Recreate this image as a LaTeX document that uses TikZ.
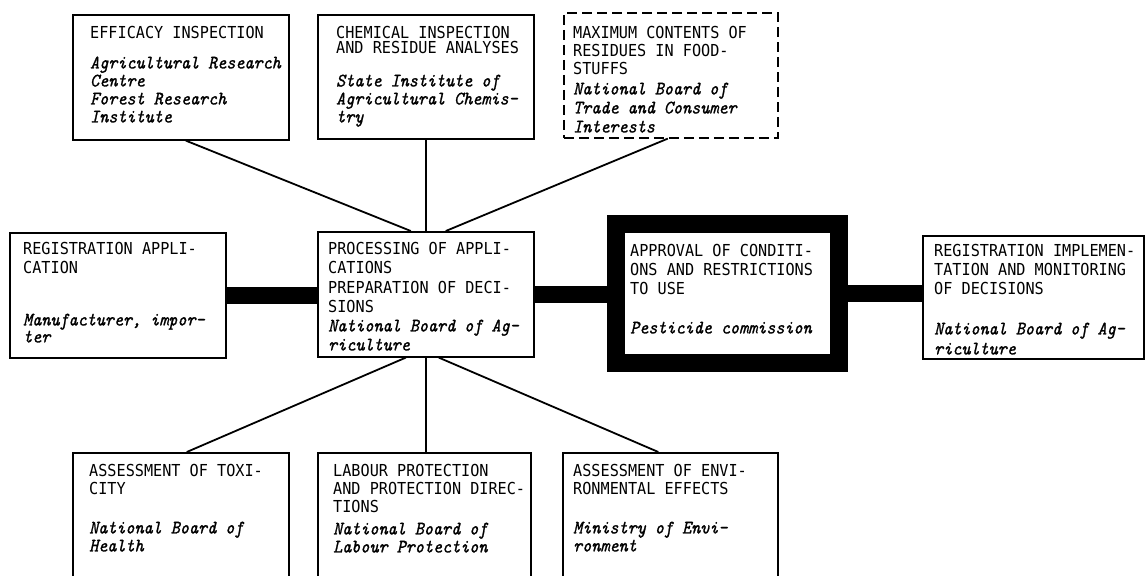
\documentclass[tikz,border=0pt]{standalone}
\usepackage{fontspec}
\newfontfamily\capfam[FakeStretch=0.92]{DejaVu Sans Mono}
\newfontfamily\itfam[FakeStretch=0.91, FakeBold=1.2]{lmmono10-italic.otf}
\newcommand\boxhd{\capfam\fontsize{16.5}{18}\selectfont}
\newcommand\boxit{\itfam\fontsize{19}{18}\selectfont}
\usetikzlibrary{calc}
\begin{document}
\begin{tikzpicture}[x=1pt,y=-1pt,
  box/.style={draw, line width=1.6pt, inner sep=0pt, anchor=north west},
  dbox/.style={box, dash pattern=on 10pt off 5pt},
  thickbox/.style={draw, line width=18pt, inner sep=0pt},
  txt/.style={anchor=north west, inner sep=0pt, align=left, font=\boxhd},
  conn/.style={line width=1.8pt},
  vconn/.style={line width=1.4pt},
  bar/.style={line width=17pt, line cap=butt}]
\useasboundingbox (0,0) rectangle (1147,575);
\clip (0,0) rectangle (1147,575);
% boxes
\node[box, minimum width=216pt, minimum height=125pt] (eff) at (72,14) {};
\node[box, minimum width=216pt, minimum height=124pt] (chem) at (317,14) {};
\node[dbox, minimum width=214pt, minimum height=125pt] (max) at (563,12) {};
\node[box, minimum width=216pt, minimum height=125pt] (regapp) at (9,232) {};
\node[box, minimum width=216pt, minimum height=125pt] (proc) at (317,231) {};
\node[thickbox, minimum width=223pt, minimum height=139pt] (appr) at (727.5,293.5) {};
\node[box, minimum width=221pt, minimum height=123pt] (regimpl) at (922,235) {};
\node[box, minimum width=216pt, minimum height=140pt] (tox) at (72,452) {};
\node[box, minimum width=213pt, minimum height=140pt] (lab) at (317,452) {};
\node[box, minimum width=215pt, minimum height=140pt] (env) at (562,452) {};
% texts
\node[txt] (eff-t) at (90,26) {EFFICACY INSPECTION\\[12pt]
  {\boxit Agricultural Research}\\{\boxit Centre}\\{\boxit Forest Research}\\{\boxit Institute}};
\node[txt] (chem-t) at (336,26) {CHEMICAL INSPECTION\\[-3pt]AND RESIDUE ANALYSES\\[15pt]
  {\boxit State Institute of}\\{\boxit Agricultural Chemis-}\\{\boxit try}};
\node[txt] (max-t) at (573,26) {MAXIMUM CONTENTS OF\\RESIDUES IN FOOD-\\STUFFS\\[2pt]
  {\boxit National Board of}\\[1pt]{\boxit Trade and Consumer}\\[1pt]{\boxit Interests}};
\node[txt] (regapp-t) at (23,242) {REGISTRATION APPLI-\\[1pt]CATION\\[34pt]
  {\boxit Manufacturer, impor-}\\[-1pt]{\boxit ter}};
\node[txt] (proc-t) at (328,242) {PROCESSING OF APPLI-\\[1pt]CATIONS\\[2pt]PREPARATION OF DECI-\\[1pt]SIONS\\[1pt]
  {\boxit National Board of Ag-}\\[1pt]{\boxit riculture}};
\node[txt] (appr-t) at (630,244) {APPROVAL OF CONDITI-\\[1pt]ONS AND RESTRICTIONS\\[1pt]TO USE\\[21pt]
  {\boxit Pesticide commission}};
\node[txt] (regimpl-t) at (934,244) {REGISTRATION IMPLEMEN-\\[1pt]TATION AND MONITORING\\[1pt]OF DECISIONS\\[22pt]
  {\boxit National Board of Ag-}\\[2pt]{\boxit riculture}};
\node[txt] (tox-t) at (89,464) {ASSESSMENT OF TOXI-\\CITY\\[21pt]
  {\boxit National Board of}\\{\boxit Health}};
\node[txt] (lab-t) at (333,464) {LABOUR PROTECTION\\AND PROTECTION DIREC-\\TIONS\\[4pt]
  {\boxit National Board of}\\{\boxit Labour Protection}};
\node[txt] (env-t) at (573,464) {ASSESSMENT OF ENVI-\\RONMENTAL EFFECTS\\[21pt]
  {\boxit Ministry of Envi-}\\{\boxit ronment}};
% connectors
\draw[conn] ($(eff.south)+(5,0)$) -- ($(proc.north)+(-15,0)$);
\draw[vconn] (chem.south) -- (chem.south |- proc.north);
\draw[conn] ($(max.south)+(-3,0)$) -- ($(proc.north)+(20,0)$);
\draw[conn] ($(proc.south)+(-20,0)$) -- ($(tox.north)+(6,0)$);
\draw[vconn] (proc.south) -- (proc.south |- lab.north);
\draw[conn] ($(proc.south)+(13,0)$) -- ($(env.north)+(-12,0)$);
\draw[bar] (regapp.east) -- (regapp.east -| proc.west);
\draw[bar] (proc.east) -- (proc.east -| appr.west);
\draw[bar] (appr.east) -- (appr.east -| regimpl.west);
\end{tikzpicture}
\end{document}
